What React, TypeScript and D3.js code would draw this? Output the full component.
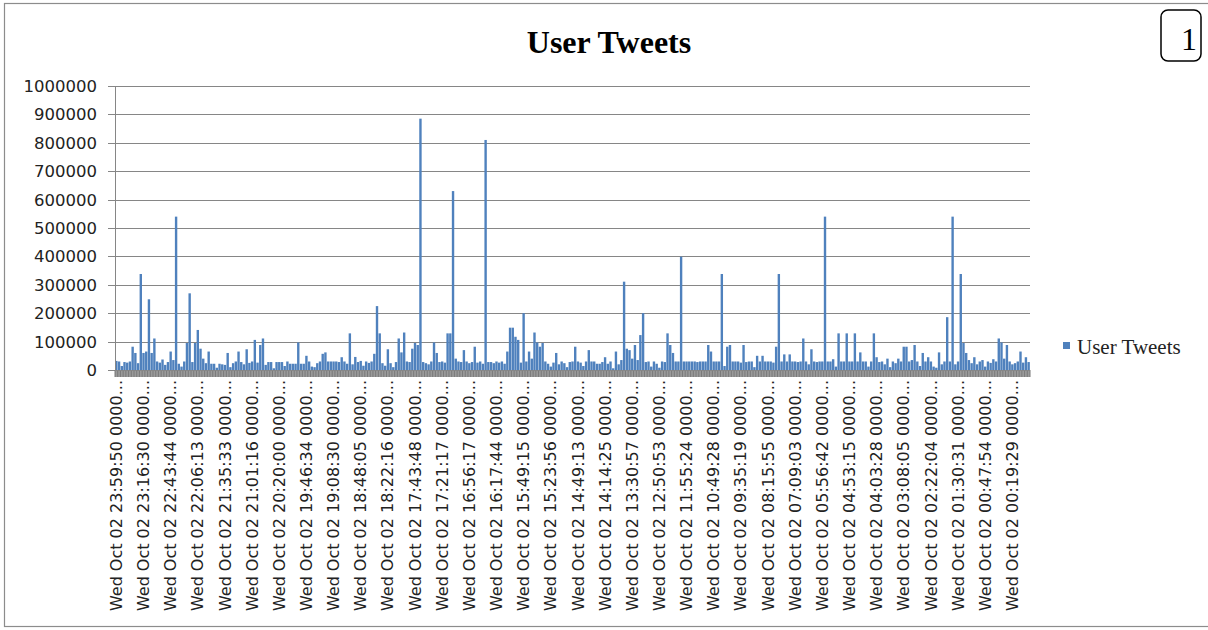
import React from "react";
import * as d3 from "d3";

// Tweets per category (337 categories, left to right)
const tweetValues: number[] = [
  32000, 30000, 14000, 28000, 26000, 30000, 82000, 60000, 24000, 338000,
  60000, 65000, 249000, 60000, 111000, 30000, 26000, 37000, 18000, 28000,
  65000, 35000, 540000, 22000, 12000, 30000, 95000, 270000, 28000, 95000,
  141000, 75000, 40000, 24000, 65000, 22000, 22000, 8000, 22000, 20000,
  18000, 60000, 10000, 24000, 30000, 65000, 28000, 20000, 73000, 25000,
  30000, 106000, 26000, 88000, 111000, 18000, 28000, 28000, 6000, 28000,
  28000, 28000, 14000, 30000, 22000, 22000, 22000, 97000, 22000, 22000,
  50000, 30000, 12000, 10000, 24000, 30000, 57000, 62000, 30000, 30000,
  30000, 30000, 28000, 45000, 30000, 22000, 129000, 20000, 46000, 28000,
  32000, 15000, 30000, 25000, 30000, 57000, 225000, 129000, 24000, 15000,
  73000, 24000, 10000, 28000, 111000, 62000, 132000, 30000, 28000, 75000,
  95000, 88000, 885000, 28000, 24000, 20000, 30000, 97000, 60000, 28000,
  30000, 26000, 129000, 129000, 630000, 40000, 30000, 28000, 70000, 30000,
  24000, 28000, 82000, 26000, 30000, 22000, 810000, 28000, 28000, 24000,
  30000, 26000, 30000, 22000, 65000, 149000, 149000, 117000, 106000, 26000,
  200000, 30000, 65000, 40000, 132000, 97000, 82000, 95000, 30000, 22000,
  12000, 26000, 60000, 20000, 30000, 24000, 10000, 28000, 30000, 82000,
  30000, 26000, 14000, 30000, 70000, 30000, 30000, 22000, 22000, 28000,
  45000, 22000, 30000, 6000, 65000, 20000, 35000, 311000, 75000, 70000,
  40000, 88000, 35000, 123000, 200000, 28000, 30000, 12000, 30000, 22000,
  8000, 30000, 28000, 129000, 88000, 60000, 30000, 30000, 399000, 30000,
  30000, 30000, 30000, 30000, 28000, 30000, 30000, 30000, 88000, 65000,
  30000, 30000, 30000, 338000, 14000, 82000, 88000, 30000, 30000, 30000,
  26000, 88000, 28000, 30000, 30000, 10000, 50000, 30000, 50000, 30000,
  30000, 30000, 26000, 82000, 338000, 30000, 55000, 30000, 55000, 30000,
  30000, 28000, 30000, 111000, 30000, 20000, 73000, 30000, 28000, 30000,
  30000, 540000, 30000, 30000, 38000, 12000, 129000, 30000, 30000, 129000,
  30000, 30000, 129000, 30000, 62000, 30000, 30000, 12000, 30000, 129000,
  45000, 28000, 30000, 20000, 40000, 10000, 30000, 24000, 40000, 30000,
  82000, 82000, 30000, 35000, 88000, 30000, 14000, 60000, 30000, 45000,
  30000, 12000, 8000, 62000, 20000, 30000, 186000, 30000, 540000, 20000,
  30000, 338000, 95000, 60000, 35000, 24000, 45000, 20000, 30000, 35000,
  12000, 30000, 25000, 38000, 30000, 111000, 97000, 40000, 88000, 30000,
  20000, 24000, 30000, 65000, 26000, 45000, 28000,
];

// Visible (every 10th) category labels
const tickTimes: string[] = [
  "23:59:50", "23:16:30", "22:43:44", "22:06:13", "21:35:33", "21:01:16",
  "20:20:00", "19:46:34", "19:08:30", "18:48:05", "18:22:16", "17:43:48",
  "17:21:17", "16:56:17", "16:17:44", "15:49:15", "15:23:56", "14:49:13",
  "14:14:25", "13:30:57", "12:50:53", "11:55:24", "10:49:28", "09:35:19",
  "08:15:55", "07:09:03", "05:56:42", "04:53:15", "04:03:28", "03:08:05",
  "02:22:04", "01:30:31", "00:47:54", "00:19:29",
];
const labelStep = 10;
const yTicks: number[] = [0, 100000, 200000, 300000, 400000, 500000, 600000, 700000, 800000, 900000, 1000000];
const seriesName = "User Tweets";
const chartTitle = "User Tweets";

const W = 1208;
const H = 630;
const plot = { left: 115, right: 1030, top: 86, bottom: 370 };
const barColor = "#4F81BD";
const gridColor = "#868686";

export default function App() {
  const idx = tweetValues.map((_, i) => i);
  const x = d3
    .scaleBand<number>()
    .domain(idx)
    .range([plot.left, plot.right])
    .paddingInner(0.12)
    .paddingOuter(0.06);
  const xb = d3.scaleBand<number>().domain(idx).range([plot.left, plot.right]);
  const y = d3.scaleLinear().domain([0, 1000000]).range([plot.bottom, plot.top]);
  const bw = Math.max(x.bandwidth(), 1);

  return (
    <svg
      width={W}
      height={H}
      style={{ position: "absolute", left: 0, top: 0, background: "#fff" }}
    >
      <rect x={0} y={0} width={W} height={H} fill="#fff" />
      <rect x={4.5} y={3.5} width={W + 10} height={623} fill="none" stroke="#8c8c8c" strokeWidth={1.2} />

      <text
        x={609}
        y={53}
        textAnchor="middle"
        fontFamily="'Liberation Serif', 'Times New Roman', serif"
        fontWeight="bold"
        fontSize={32}
        fill="#000"
      >
        {chartTitle}
      </text>

      {/* number box */}
      <rect x={1161} y={10} width={40} height={51} rx={7} fill="#fff" stroke="#000" strokeWidth={1.5} />
      <text
        x={1189}
        y={50}
        textAnchor="middle"
        fontFamily="'Liberation Serif', 'Times New Roman', serif"
        fontSize={32}
        fill="#000"
      >
        1
      </text>

      {/* gridlines + y ticks */}
      {yTicks.map((t) => (
        <g key={t}>
          <line x1={plot.left - 7} x2={plot.right} y1={Math.round(y(t)) + 0.5} y2={Math.round(y(t)) + 0.5} stroke={gridColor} strokeWidth={1} />
          <text
            x={97}
            y={y(t)}
            dy="0.36em"
            textAnchor="end"
            fontFamily="'DejaVu Sans', Verdana, sans-serif"
            fontSize={16.5}
            fill="#222"
          >
            {t}
          </text>
        </g>
      ))}

      {/* bars */}
      {tweetValues.map((v, i) => (
        <rect
          key={i}
          x={(x(i) as number) + x.bandwidth() / 2 - bw / 2}
          y={y(v)}
          width={bw}
          height={plot.bottom - y(v)}
          fill={barColor}
        />
      ))}

      {/* category tick marks (dense band) */}
      <rect x={plot.left} y={plot.bottom} width={plot.right - plot.left} height={7} fill="#9a9a9a" />
      {idx.concat([idx.length]).map((i) => {
        const xx = i === idx.length ? plot.right : (xb(i) as number);
        return <line key={"t" + i} x1={xx} x2={xx} y1={plot.bottom} y2={plot.bottom + 7} stroke="#7a7a7a" strokeWidth={1} />;
      })}

      {/* axes */}
      <line x1={plot.left + 0.5} x2={plot.left + 0.5} y1={plot.top} y2={plot.bottom + 7} stroke={gridColor} strokeWidth={1} />
      <line x1={plot.left} x2={plot.right} y1={plot.bottom + 0.5} y2={plot.bottom + 0.5} stroke={gridColor} strokeWidth={1} />

      {/* x labels */}
      {tickTimes.map((t, k) => {
        const i = k * labelStep;
        const cx = (xb(i) as number) + xb.bandwidth() / 2;
        return (
          <text
            key={t}
            transform={`translate(${cx},${380}) rotate(-90)`}
            dy="0.35em"
            textAnchor="end"
            fontFamily="'DejaVu Sans', Verdana, sans-serif"
            fontSize={16}
            fill="#222"
          >
            {`Wed Oct 02 ${t} 0000...`}
          </text>
        );
      })}

      {/* legend */}
      <rect x={1063} y={342} width={7} height={7} fill={barColor} />
      <text
        x={1077}
        y={354}
        fontFamily="'Liberation Serif', 'Times New Roman', serif"
        fontSize={21}
        fill="#222"
      >
        {seriesName}
      </text>
    </svg>
  );
}
